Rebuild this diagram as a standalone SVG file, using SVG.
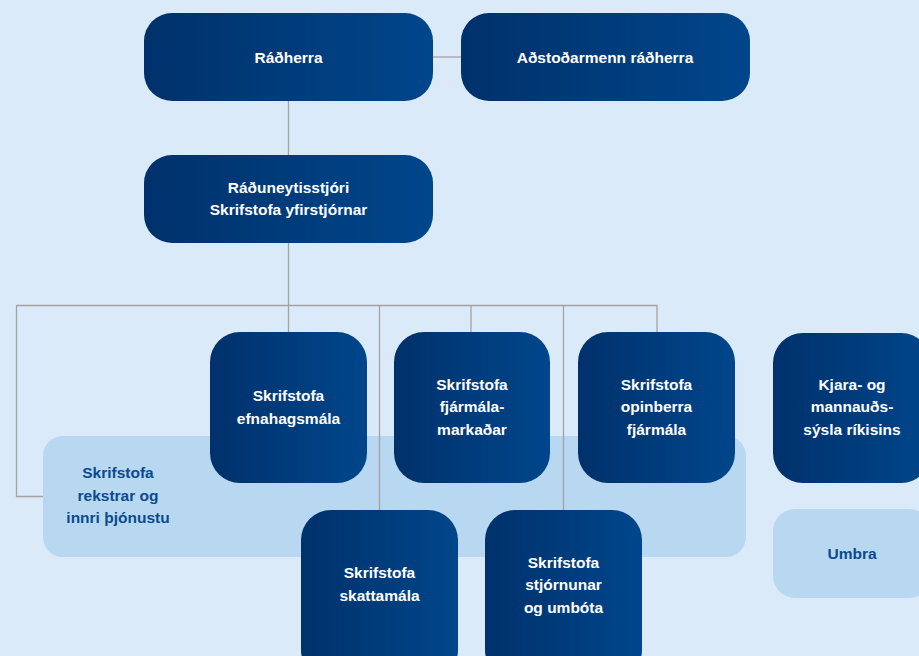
<svg xmlns="http://www.w3.org/2000/svg" width="919" height="656" viewBox="0 0 919 656">
<defs>
<linearGradient id="g" x1="0" y1="0" x2="1" y2="0">
<stop offset="0" stop-color="#00316b"/>
<stop offset="1" stop-color="#00468b"/>
</linearGradient>
<style>
.d{fill:url(#g)}
.l{fill:#b8d8f1}
.t{font-family:"Liberation Sans",Arial,sans-serif;font-weight:bold;font-size:15.5px;fill:#ffffff;text-anchor:middle}
.tb{font-family:"Liberation Sans",Arial,sans-serif;font-weight:bold;font-size:15.5px;fill:#0b4a8e;text-anchor:middle}
.c{fill:none;stroke:#a3a3a3;stroke-width:1.3}
</style>
</defs>
<rect width="919" height="656" fill="#dbeaf8"/>
<g id="band">
<rect class="l" x="43" y="436" width="703" height="121" rx="20"/>
<text class="tb" x="118" y="478">Skrifstofa</text>
<text class="tb" x="118" y="501">rekstrar og</text>
<text class="tb" x="118" y="523">innri þjónustu</text>
</g>
<g id="connectors">
<path class="c" d="M433 57H461"/>
<path class="c" d="M288.5 101V155"/>
<path class="c" d="M288.5 243V332"/>
<path class="c" d="M16.5 305.5H657V332"/>
<path class="c" d="M16.5 305V496.5H43"/>
<path class="c" d="M379.5 305V510"/>
<path class="c" d="M471 305V332"/>
<path class="c" d="M563.5 305V510"/>
</g>
<g id="radherra">
<rect class="d" x="144" y="13" width="289" height="88" rx="28"/>
<text class="t" x="288.5" y="62.5">Ráðherra</text>
</g>
<g id="adstodarmenn">
<rect class="d" x="461" y="13" width="289" height="88" rx="28"/>
<text class="t" x="605" y="62.5">Aðstoðarmenn ráðherra</text>
</g>
<g id="raduneytisstjori">
<rect class="d" x="144" y="155" width="289" height="88" rx="28"/>
<text class="t" x="288.5" y="192.5">Ráðuneytisstjóri</text>
<text class="t" x="288.5" y="214.5">Skrifstofa yfirstjórnar</text>
</g>
<g id="efnahagsmala">
<rect class="d" x="210" y="332" width="157" height="151" rx="30"/>
<text class="t" x="288.5" y="401">Skrifstofa</text>
<text class="t" x="288.5" y="423.5">efnahagsmála</text>
</g>
<g id="fjarmalamarkadar">
<rect class="d" x="394" y="332" width="156" height="151" rx="30"/>
<text class="t" x="472" y="389.5">Skrifstofa</text>
<text class="t" x="472" y="412">fjármála-</text>
<text class="t" x="472" y="434.5">markaðar</text>
</g>
<g id="opinberra">
<rect class="d" x="578" y="332" width="157" height="151" rx="30"/>
<text class="t" x="656.5" y="389.5">Skrifstofa</text>
<text class="t" x="656.5" y="412">opinberra</text>
<text class="t" x="656.5" y="434.5">fjármála</text>
</g>
<g id="kjara">
<rect class="d" x="773" y="333" width="158" height="150" rx="30"/>
<text class="t" x="852" y="389.5">Kjara- og</text>
<text class="t" x="852" y="412">mannauðs-</text>
<text class="t" x="852" y="434.5">sýsla ríkisins</text>
</g>
<g id="umbra">
<rect class="l" x="773" y="509" width="158" height="89" rx="22"/>
<text class="tb" x="852" y="558.5">Umbra</text>
</g>
<g id="skattamala">
<rect class="d" x="301" y="510" width="157" height="170" rx="30"/>
<text class="t" x="379.5" y="578">Skrifstofa</text>
<text class="t" x="379.5" y="600.5">skattamála</text>
</g>
<g id="stjornunar">
<rect class="d" x="485" y="510" width="157" height="170" rx="30"/>
<text class="t" x="563.5" y="567.5">Skrifstofa</text>
<text class="t" x="563.5" y="590">stjórnunar</text>
<text class="t" x="563.5" y="612.5">og umbóta</text>
</g>
</svg>
